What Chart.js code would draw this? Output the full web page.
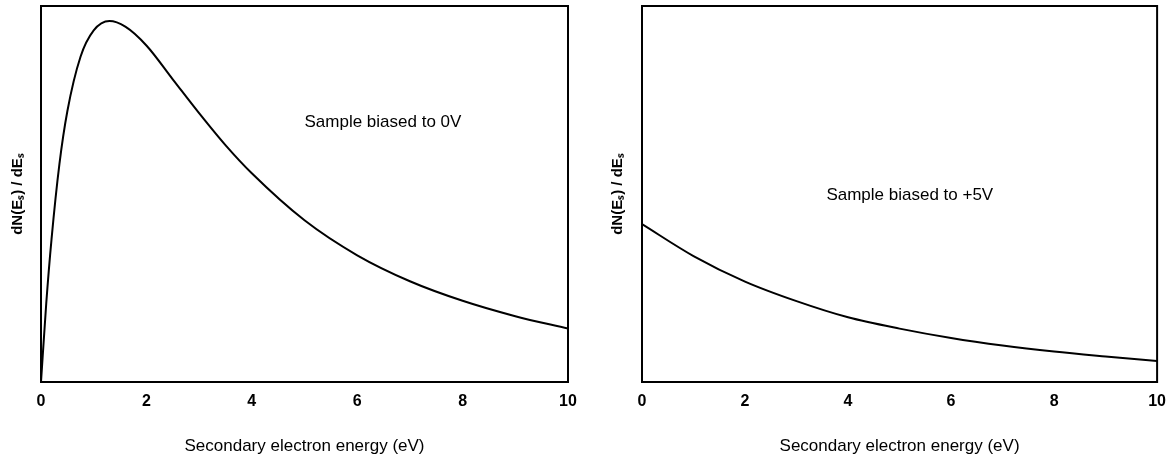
<!DOCTYPE html>
<html>
<head>
<meta charset="utf-8">
<script src="https://cdn.jsdelivr.net/npm/chart.js@4/dist/chart.umd.min.js"></script>
<style>
  body { margin: 0; background: #fff; }
  .panel { position: absolute; top: 0; height: 462px; }
</style>
</head>
<body>
<div class="panel" style="left:0;width:600px"><canvas id="left" width="600" height="462"></canvas></div>
<div class="panel" style="left:600px;width:576px"><canvas id="right" width="576" height="462"></canvas></div>
<script>
// Sample biased to 0V
const energy0V = [0, 0.1, 0.2, 0.35, 0.5, 0.75, 1, 1.3, 1.6, 2, 2.5, 3, 3.5, 4, 5, 6, 7, 8, 9, 10];
const signal0V = [0, 21, 38, 58, 72, 86.5, 93.5, 96, 94.5, 89.5, 80.5, 71.5, 63, 55.5, 43, 33.7, 26.8, 21.6, 17.5, 14.2];

// Sample biased to +5V
const energy5V = [0, 1, 2, 3, 4, 5, 6, 7, 8, 9, 10];
const signal5V = [42, 33.5, 26.7, 21.5, 17.2, 14.2, 11.7, 9.7, 8.1, 6.8, 5.6];

const xTicks = [0, 2, 4, 6, 8, 10];
const xTitle = "Secondary electron energy (eV)";
const yTitle = "dN(E\u209B) / dE\u209B";

// frame round the plot + note text
const framePlugin = {
  id: "frame",
  beforeDatasetsDraw(chart) {
    const a = chart.chartArea, ctx = chart.ctx;
    ctx.save();
    ctx.strokeStyle = "#000";
    ctx.lineWidth = 2;
    ctx.strokeRect(a.left, a.top, a.right - a.left, a.bottom - a.top);
    ctx.restore();
  },
  afterDraw(chart, args, opts) {
    if (!opts.text) return;
    const ctx = chart.ctx;
    ctx.save();
    ctx.fillStyle = "#000";
    ctx.font = "17px 'Liberation Sans', Arial, sans-serif";
    ctx.textAlign = "left";
    ctx.textBaseline = "middle";
    ctx.fillText(opts.text, chart.scales.x.getPixelForValue(opts.x), chart.scales.y.getPixelForValue(opts.y));
    ctx.restore();
  }
};

function makeChart(id, xs, ys, padRight, note) {
  return new Chart(document.getElementById(id), {
    type: "line",
    data: {
      datasets: [{
        data: xs.map((x, i) => ({ x: x, y: ys[i] })),
        borderColor: "#000",
        borderWidth: 2,
        pointRadius: 0,
        fill: false,
        cubicInterpolationMode: "monotone"
      }]
    },
    options: {
      responsive: false,
      animation: false,
      devicePixelRatio: 1,
      layout: { padding: { top: 6, right: padRight, left: 0, bottom: 0 } },
      plugins: { legend: { display: false }, tooltip: { enabled: false }, frame: note },
      scales: {
        x: {
          type: "linear", min: 0, max: 10,
          afterFit: s => { s.height = 80; },
          afterBuildTicks: s => { s.ticks = xTicks.map(v => ({ value: v })); },
          grid: { display: false, drawTicks: false },
          border: { display: false },
          ticks: { color: "#000", padding: 10, font: { family: "'Liberation Sans', Arial", size: 16, weight: "bold" } },
          title: { display: true, text: xTitle, color: "#000", padding: { top: 0, bottom: 5 }, font: { family: "'Liberation Sans', Arial", size: 17 } }
        },
        y: {
          min: 0, max: 100,
          afterFit: s => { s.width = id === "left" ? 41 : 42; },
          grid: { display: false, drawTicks: false },
          border: { display: false },
          ticks: { display: false },
          title: { display: true, text: yTitle, color: "#000", padding: { top: 9, bottom: 0 }, font: { family: "'Liberation Sans', Arial", size: 15, weight: "bold" } }
        }
      }
    },
    plugins: [framePlugin]
  });
}

makeChart("left", energy0V, signal0V, 32, { text: "Sample biased to 0V", x: 5.0, y: 69 });
makeChart("right", energy5V, signal5V, 14, { text: "Sample biased to +5V", x: 3.58, y: 49.7 });
</script>
</body>
</html>
